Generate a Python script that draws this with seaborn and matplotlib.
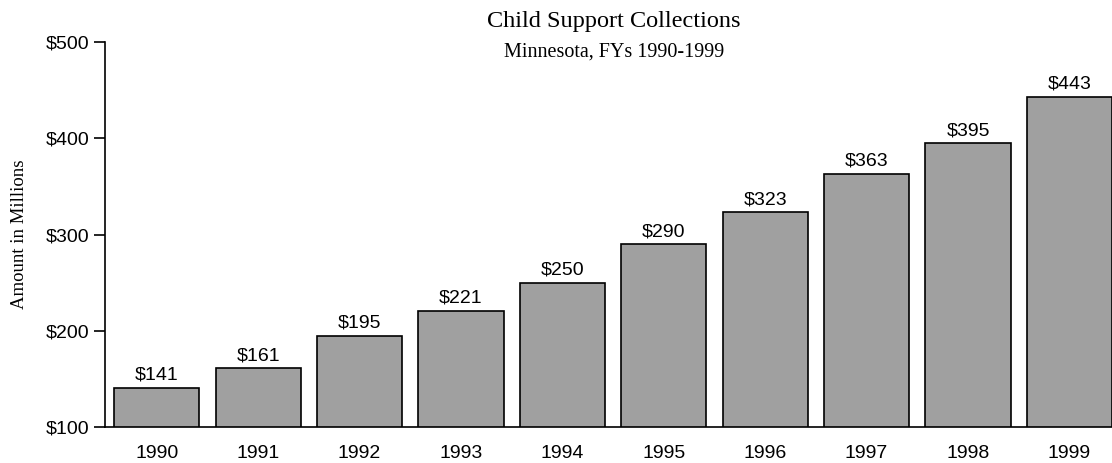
import matplotlib

matplotlib.use("Agg")

import matplotlib.pyplot as plt
import seaborn as sns

years = ["1990", "1991", "1992", "1993", "1994", "1995", "1996", "1997", "1998", "1999"]
collections = [141, 161, 195, 221, 250, 290, 323, 363, 395, 443]
y_ticks = [100, 200, 300, 400, 500]

sns.set_theme(style="white")
plt.rcParams["font.family"] = ["Liberation Sans", "DejaVu Sans"]
plt.rcParams.update({
    "text.color": "black",
    "axes.labelcolor": "black",
    "xtick.color": "black",
    "ytick.color": "black",
})

fig = plt.figure(figsize=(11.12, 4.63), dpi=100)
ax = fig.add_axes([0.0944, 0.0778, 0.9056, 0.831])

sns.barplot(x=years, y=collections, color="#a0a0a0", saturation=1,
            edgecolor="black", linewidth=1.2, width=0.84, ax=ax)

ax.bar_label(ax.containers[0], labels=[f"${v}" for v in collections],
             padding=3, fontsize=14, color="black")

ax.set_ylim(100, 500)
ax.set_xlim(-0.51, 9.42)
ax.set_yticks(y_ticks)
ax.set_yticklabels([f"${v}" for v in y_ticks])
ax.tick_params(axis="y", left=True, length=8, width=1.2, labelsize=14, pad=3,
               color="black", labelcolor="black")
ax.tick_params(axis="x", bottom=False, labelsize=14, pad=7, labelcolor="black")

for side in ["top", "right"]:
    ax.spines[side].set_visible(False)
for side in ["left", "bottom"]:
    ax.spines[side].set_color("black")
    ax.spines[side].set_linewidth(1.2)

ax.set_ylabel("Amount in Millions", family="Liberation Serif", fontsize=13.5,
              labelpad=13, color="black")
ax.set_xlabel("")

fig.text(0.552, 0.9417, "Child Support Collections", family="Liberation Serif",
         fontsize=17.5, ha="center", va="baseline", color="black")
fig.text(0.552, 0.878, "Minnesota, FYs 1990-1999", family="Liberation Serif",
         fontsize=14.5, ha="center", va="baseline", color="black")

fig.savefig("out.png", dpi=100)
plt.close(fig)
